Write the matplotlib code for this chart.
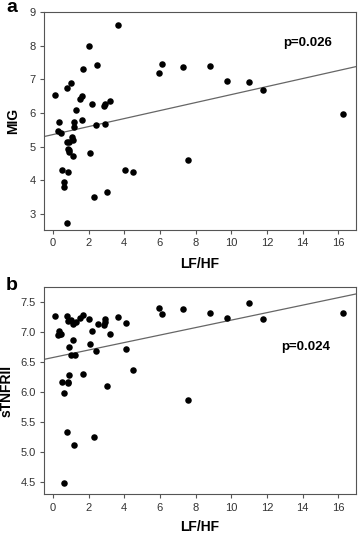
import matplotlib.pyplot as plt
import numpy as np

plt.rcParams['font.family'] = ['Liberation Sans', 'DejaVu Sans']

# panel a: LF/HF vs MIG
lfhf_a = [0.13, 3.63, 2.0, 1.70, 2.50, 1.01, 0.77, 1.64, 1.50, 3.21, 2.92, 2.88,
          2.19, 1.29, 0.32, 1.18, 1.21, 1.64, 0.26, 0.43, 2.41, 2.93, 1.07, 1.12,
          0.80, 0.92, 0.84, 0.92, 0.93, 1.12, 2.09, 0.50, 0.84, 0.62, 0.60, 4.07,
          4.47, 3.03, 2.32, 0.77, 5.94, 6.13,
          7.30, 8.79, 9.78, 10.99, 11.78, 7.58, 16.28]
mig = [6.54, 8.62, 8.01, 7.32, 7.44, 6.89, 6.74, 6.52, 6.42, 6.37, 6.27, 6.20,
       6.26, 6.09, 5.72, 5.72, 5.60, 5.78, 5.47, 5.41, 5.64, 5.66, 5.30, 5.20,
       5.15, 5.15, 4.94, 4.89, 4.85, 4.72, 4.81, 4.32, 4.24, 3.95, 3.81, 4.32,
       4.25, 3.66, 3.51, 2.73, 7.18, 7.46,
       7.38, 7.40, 6.96, 6.92, 6.68, 4.61, 5.98]

# panel b: LF/HF vs sTNFRII
lfhf_b = [0.13, 0.77, 0.84, 1.03, 1.12, 1.29, 1.52, 1.70, 2.0, 2.51, 2.94, 2.92,
          2.88, 3.63, 4.10, 0.32, 0.37, 0.26, 0.43, 2.17, 3.22, 1.12, 2.10, 0.92,
          1.03, 1.25, 2.42, 4.10, 4.49, 1.67, 0.90, 0.50, 0.82, 0.84, 0.62, 3.03,
          0.77, 1.20, 2.32, 0.60, 5.96, 6.14,
          7.30, 8.79, 9.78, 10.99, 11.78, 7.58, 16.28]
stnfrii = [7.26, 7.26, 7.18, 7.19, 7.13, 7.16, 7.23, 7.28, 7.21, 7.13, 7.22, 7.16,
           7.11, 7.24, 7.14, 7.01, 6.97, 6.94, 6.96, 7.01, 6.97, 6.86, 6.79, 6.74,
           6.62, 6.61, 6.68, 6.71, 6.37, 6.29, 6.28, 6.16, 6.16, 6.14, 5.98, 6.10,
           5.33, 5.11, 5.24, 4.48, 7.40, 7.29,
           7.38, 7.32, 7.23, 7.48, 7.21, 5.86, 7.31]

# regression lines (intercept, slope)
fit_a = (5.36, 0.119)
fit_b = (6.57, 0.0623)
p_a = 'p=0.026'
p_b = 'p=0.024'

xlim = (-0.5, 17.0)
xticks = [0, 2, 4, 6, 8, 10, 12, 14, 16]


def style(ax):
    for s in ax.spines.values():
        s.set_color('#555555')
        s.set_linewidth(0.8)
    ax.tick_params(direction='out', length=3, width=0.8, color='#555555',
                   labelsize=8, labelcolor='#333333', pad=3)
    ax.set_xlim(*xlim)
    ax.set_xticks(xticks)


fig = plt.figure(figsize=(3.58, 5.34), dpi=100)
ax1 = fig.add_axes([0.1229, 0.5693, 0.8715, 0.4077])
ax2 = fig.add_axes([0.1229, 0.0743, 0.8715, 0.3888])

t = np.array(xlim)

ax1.scatter(lfhf_a, mig, s=22, color='black', linewidths=0, zorder=3)
ax1.plot(t, fit_a[0] + fit_a[1] * t, color='#666666', lw=0.9)
style(ax1)
ax1.set_ylim(2.52, 9.0)
ax1.set_yticks([3, 4, 5, 6, 7, 8, 9])
ax1.set_ylabel('MIG', fontsize=10, fontweight='bold', labelpad=7)
ax1.set_xlabel('LF/HF', fontsize=10, fontweight='bold', labelpad=6)
ax1.text(14.3, 8.1, p_a, fontsize=9.5, fontweight='bold', ha='center', va='center')

ax2.scatter(lfhf_b, stnfrii, s=22, color='black', linewidths=0, zorder=3)
ax2.plot(t, fit_b[0] + fit_b[1] * t, color='#666666', lw=0.9)
style(ax2)
ax2.set_ylim(4.29, 7.75)
ax2.set_yticks([4.5, 5.0, 5.5, 6.0, 6.5, 7.0, 7.5])
ax2.set_yticklabels(['%.1f' % v for v in [4.5, 5.0, 5.5, 6.0, 6.5, 7.0, 7.5]])
ax2.set_ylabel('sTNFRII', fontsize=10, fontweight='bold', labelpad=5)
ax2.set_xlabel('LF/HF', fontsize=10, fontweight='bold', labelpad=5)
ax2.text(14.2, 6.74, p_b, fontsize=9.5, fontweight='bold', ha='center', va='center')

fig.text(12 / 358, 1 - 8 / 534, 'a', fontsize=14, fontweight='bold', ha='center', va='center')
fig.text(12 / 358, 1 - 286 / 534, 'b', fontsize=14, fontweight='bold', ha='center', va='center')

fig.savefig('out.png', dpi=100)
